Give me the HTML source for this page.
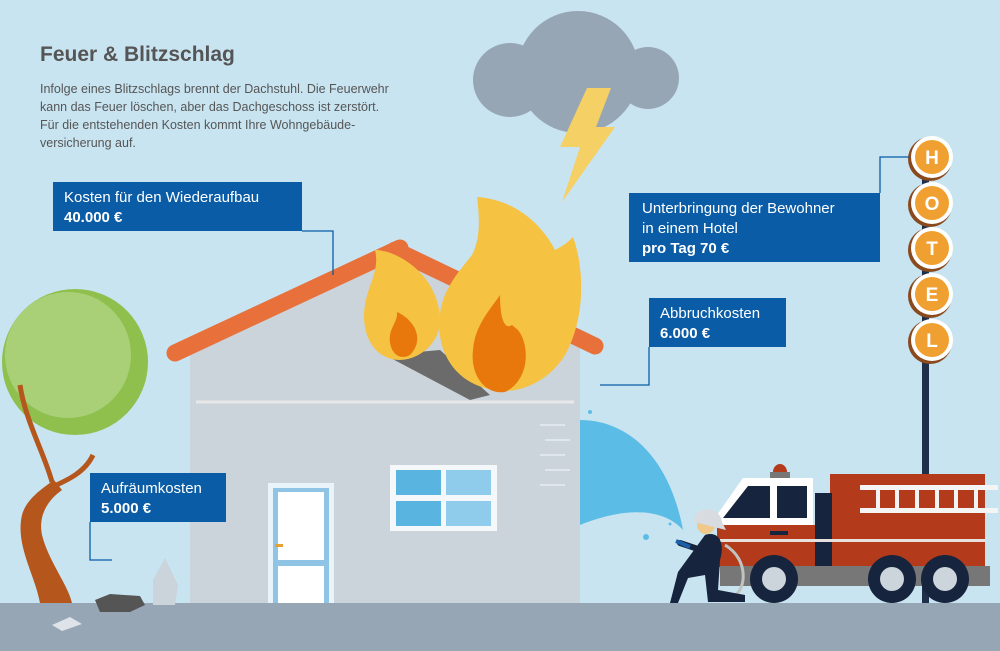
<!DOCTYPE html>
<html><head><meta charset="utf-8"><style>
html,body{margin:0;padding:0;}
body{width:1000px;height:651px;overflow:hidden;background:#c9e4f1;font-family:"Liberation Sans",sans-serif;}
svg{display:block}
</style></head><body>
<svg width="1000" height="651" viewBox="0 0 1000 651" xmlns="http://www.w3.org/2000/svg">
<rect width="1000" height="651" fill="#c9e4f1"/>
<text x="40" y="61" font-family="Liberation Sans" font-weight="bold" font-size="21" fill="#555">Feuer &amp; Blitzschlag</text>
<g font-family="Liberation Sans" font-size="12.5" fill="#555">
<text x="40" y="93">Infolge eines Blitzschlags brennt der Dachstuhl. Die Feuerwehr</text>
<text x="40" y="111">kann das Feuer löschen, aber das Dachgeschoss ist zerstört.</text>
<text x="40" y="129">Für die entstehenden Kosten kommt Ihre Wohngebäude-</text>
<text x="40" y="147">versicherung auf.</text>
</g>
<!-- cloud -->
<g fill="#97a6b5">
<circle cx="510" cy="80" r="37"/><circle cx="578" cy="72" r="61"/><circle cx="648" cy="78" r="31"/>
</g>
<polygon points="587,88 611,88 596,127 615,127 562,202 580,147 560,147" fill="#f5d064"/>
<!-- tree -->
<circle cx="75" cy="362" r="73" fill="#8fc04e"/>
<circle cx="68" cy="355" r="63" fill="#a9d077"/>
<path d="M20,385 C25,420 45,455 52,482" stroke="#b5561c" stroke-width="5" fill="none"/>
<path d="M93,455 C85,472 68,480 52,487" stroke="#b5561c" stroke-width="5" fill="none"/>
<path d="M40,603 C35,575 15,545 22,515 C26,500 40,490 54,480 L62,490 C48,500 38,515 42,535 C48,560 68,585 72,603 Z" fill="#b5561c"/>
<!-- ground -->
<rect x="0" y="603" width="1000" height="48" fill="#97a6b5"/>
<!-- house -->
<polygon points="190,355 397,256 580,345 580,603 190,603" fill="#cbd3db"/>
<line x1="196" y1="402" x2="574" y2="402" stroke="#e8e8e8" stroke-width="3"/>
<line x1="175" y1="353" x2="400" y2="248" stroke="#e8703a" stroke-width="17" stroke-linecap="round"/>
<line x1="395" y1="250" x2="595" y2="346" stroke="#e8703a" stroke-width="17" stroke-linecap="round"/>
<rect x="268" y="483" width="66" height="120" fill="#e8f4fa"/>
<rect x="273" y="488" width="56" height="115" fill="#8fc4e4"/>
<rect x="278" y="492" width="46" height="68" fill="#fff"/>
<rect x="278" y="566" width="46" height="37" fill="#fff"/>
<rect x="275" y="544" width="8" height="3" fill="#e8a030"/>
<rect x="390" y="465" width="107" height="66" fill="#f4f8fa"/>
<rect x="396" y="470" width="45" height="25" fill="#5ab4e0"/><rect x="446" y="470" width="45" height="25" fill="#8fcbea"/>
<rect x="396" y="501" width="45" height="25" fill="#5ab4e0"/><rect x="446" y="501" width="45" height="25" fill="#8fcbea"/>
<g stroke="#e8eef2" stroke-width="1.5"><line x1="540" y1="425" x2="565" y2="425"/><line x1="545" y1="440" x2="570" y2="440"/><line x1="540" y1="455" x2="565" y2="455"/><line x1="545" y1="470" x2="570" y2="470"/><line x1="540" y1="485" x2="565" y2="485"/></g>
<!-- fire -->
<polygon points="385,355 440,350 490,395 470,400" fill="#6b6b6b"/>
<path d="M375,250 C395,250 430,270 438,305 C448,340 420,360 400,360 C375,360 360,335 365,305 C368,285 380,270 375,250 Z" fill="#f5c242"/>
<path d="M397,312 C415,320 425,340 410,355 C398,362 388,350 390,335 C392,325 398,320 397,312 Z" fill="#e8770c"/>
<path d="M477,197 C520,200 545,230 555,250 C565,245 570,240 573,237 C585,270 585,320 565,355 C550,380 520,395 495,390 C455,385 435,350 440,315 C442,290 460,270 472,255 C480,240 480,220 477,197 Z" fill="#f5c242"/>
<path d="M500,295 C500,320 505,330 512,325 L518,330 C530,345 530,380 505,392 C485,395 470,375 473,350 C475,325 490,310 500,295 Z" fill="#e8770c"/>
<!-- water -->
<path d="M580,420 C630,420 670,460 683,530 C665,510 630,505 580,525 Z" fill="#5bbde6"/>
<g fill="#5bbde6"><circle cx="590" cy="412" r="2"/><circle cx="646" cy="537" r="3"/><circle cx="670" cy="524" r="1.5"/></g>
<!-- hotel -->
<rect x="922" y="150" width="7" height="453" fill="#1f2f4a"/>
<g font-family="Liberation Sans" font-weight="bold" font-size="19" fill="#fff" text-anchor="middle">
<g><circle cx="930" cy="159" r="22" fill="#8a4a1e"/><circle cx="932" cy="157" r="21" fill="#fff"/><circle cx="932" cy="157" r="17" fill="#f0a030"/><text x="932" y="164">H</text></g>
<g><circle cx="930" cy="205" r="22" fill="#8a4a1e"/><circle cx="932" cy="203" r="21" fill="#fff"/><circle cx="932" cy="203" r="17" fill="#f0a030"/><text x="932" y="210">O</text></g>
<g><circle cx="930" cy="250" r="22" fill="#8a4a1e"/><circle cx="932" cy="248" r="21" fill="#fff"/><circle cx="932" cy="248" r="17" fill="#f0a030"/><text x="932" y="255">T</text></g>
<g><circle cx="930" cy="296" r="22" fill="#8a4a1e"/><circle cx="932" cy="294" r="21" fill="#fff"/><circle cx="932" cy="294" r="17" fill="#f0a030"/><text x="932" y="301">E</text></g>
<g><circle cx="930" cy="342" r="22" fill="#8a4a1e"/><circle cx="932" cy="340" r="21" fill="#fff"/><circle cx="932" cy="340" r="17" fill="#f0a030"/><text x="932" y="347">L</text></g>
</g>
<!-- truck -->
<rect x="830" y="474" width="155" height="93" fill="#b33a1a"/>
<rect x="860" y="485" width="138" height="5" fill="#f4f4f4"/><rect x="860" y="508" width="138" height="5" fill="#f4f4f4"/>
<g fill="#f4f4f4"><rect x="876" y="485" width="4" height="28"/><rect x="895" y="485" width="4" height="28"/><rect x="915" y="485" width="4" height="28"/><rect x="935" y="485" width="4" height="28"/><rect x="954" y="485" width="4" height="28"/><rect x="974" y="485" width="4" height="28"/></g>
<polygon points="743,478 813,478 813,525 717,525 717,515" fill="#fff"/>
<polygon points="748,486 770,486 770,518 723,518" fill="#16243d"/>
<rect x="777" y="486" width="30" height="32" fill="#16243d"/>
<rect x="717" y="525" width="98" height="42" fill="#b33a1a"/>
<rect x="815" y="493" width="17" height="74" fill="#16243d"/>
<rect x="720" y="539" width="113" height="3" fill="#e8e0dc"/><rect x="830" y="539" width="155" height="3" fill="#e8e0dc"/>
<rect x="770" y="531" width="18" height="4" fill="#16243d"/>
<rect x="770" y="472" width="20" height="6" fill="#777"/><path d="M773,472 a7,8 0 0 1 14,0 Z" fill="#b33a1a"/>
<rect x="720" y="566" width="270" height="20" fill="#777"/>
<g fill="#16243d"><circle cx="774" cy="579" r="24"/><circle cx="892" cy="579" r="24"/><circle cx="945" cy="579" r="24"/></g>
<g fill="#ccd4dc"><circle cx="774" cy="579" r="12"/><circle cx="892" cy="579" r="12"/><circle cx="945" cy="579" r="12"/></g>
<!-- firefighter -->
<path d="M725,545 C750,560 745,590 735,595" stroke="#c0c4c0" stroke-width="3" fill="none"/>
<path d="M705,535 C720,530 725,545 720,560 L718,590 L745,595 L745,602 L708,602 L705,575 L688,578 L678,603 L670,603 L678,572 Z" fill="#16243d"/>
<circle cx="706" cy="525" r="9" fill="#f0c88a"/>
<path d="M694,522 C694,505 720,505 722,522 L726,530 Z" fill="#d8dce0"/>
<line x1="680" y1="543" x2="710" y2="553" stroke="#16243d" stroke-width="6" stroke-linecap="round"/>
<line x1="676" y1="541" x2="690" y2="547" stroke="#1b5fa8" stroke-width="4"/>
<!-- rubble -->
<polygon points="95,600 110,594 140,596 145,605 130,612 100,612" fill="#555"/>
<polygon points="153,605 153,580 165,558 178,585 175,605" fill="#cbd3db"/>
<polygon points="52,625 70,617 82,624 62,631" fill="#dde3e8"/>
<!-- labels -->
<g fill="none" stroke="#0a5ca6" stroke-width="1.3">
<polyline points="302,231 333,231 333,275"/>
<polyline points="880,193 880,157 910,157"/>
<polyline points="649,347 649,385 600,385"/>
<polyline points="90,522 90,560 112,560"/>
</g>
<g fill="#0a5ca6">
<rect x="53" y="182" width="249" height="49"/>
<rect x="629" y="193" width="251" height="69"/>
<rect x="649" y="298" width="137" height="49"/>
<rect x="90" y="473" width="136" height="49"/>
</g>
<g font-family="Liberation Sans" font-size="15" fill="#fff">
<text x="64" y="202">Kosten für den Wiederaufbau</text>
<text x="64" y="222" font-weight="bold">40.000 €</text>
<text x="642" y="213">Unterbringung der Bewohner</text>
<text x="642" y="233">in einem Hotel</text>
<text x="642" y="253" font-weight="bold">pro Tag 70 €</text>
<text x="660" y="318">Abbruchkosten</text>
<text x="660" y="338" font-weight="bold">6.000 €</text>
<text x="101" y="493">Aufräumkosten</text>
<text x="101" y="513" font-weight="bold">5.000 €</text>
</g>
</svg>
</body></html>
